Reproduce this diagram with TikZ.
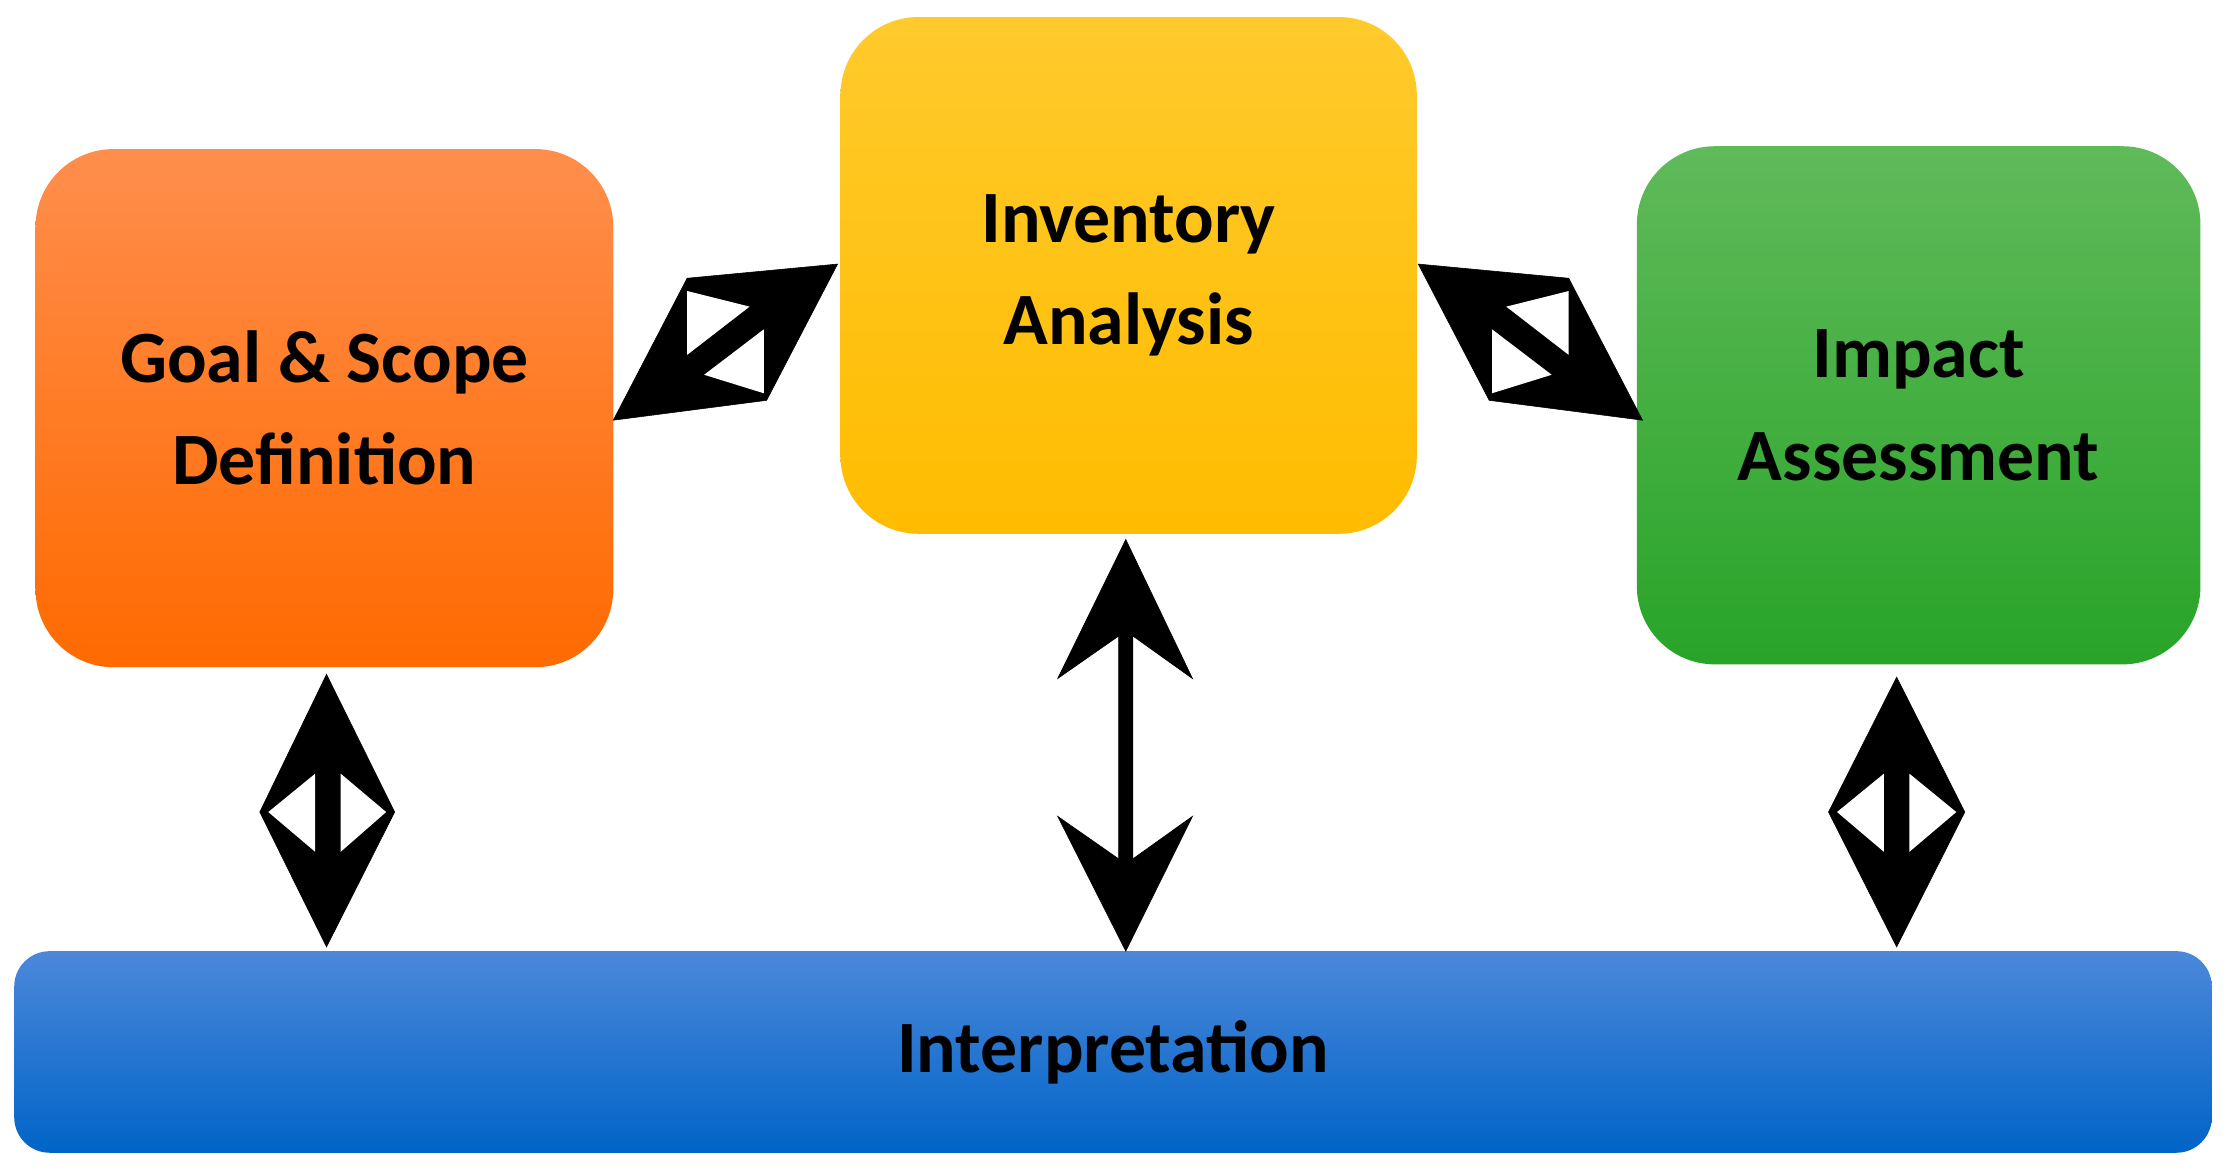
\documentclass[tikz,border=0pt]{standalone}
\usepackage{fontspec}
\setmainfont{Carlito}
\usetikzlibrary{positioning}
\definecolor{goalTop}{RGB}{255,142,76}
\definecolor{goalBot}{RGB}{255,106,0}
\definecolor{invTop}{RGB}{255,202,44}
\definecolor{invBot}{RGB}{255,188,0}
\definecolor{impTop}{RGB}{96,186,90}
\definecolor{impBot}{RGB}{40,164,40}
\definecolor{intTop}{RGB}{76,136,218}
\definecolor{intBot}{RGB}{0,100,200}
\tikzset{
  stage/.style={rectangle, rounded corners=55pt, align=center, inner sep=0pt,
    font=\fontsize{52}{72}\selectfont\bfseries},
  dblarrow/.style={fill=black, draw=black},
  hole/.style={fill=white}
}
\begin{document}
\begin{tikzpicture}[x=1pt,y=1pt,yscale=-1]
  \useasboundingbox (0,0) rectangle (1568,826);

  % stages
  \node (goal) [stage, minimum width=407pt, minimum height=365pt,
    top color=goalTop, bottom color=goalBot] at (228.5,287.5) {Goal \& Scope\\Definition};
  \node (inv) [stage, minimum width=406pt, minimum height=364pt,
    top color=invTop, bottom color=invBot] at (795,194) {Inventory\\Analysis};
  \node (imp) [stage, minimum width=397pt, minimum height=365pt,
    top color=impTop, bottom color=impBot] at (1351.5,285.5) {Impact\\Assessment};
  \node (interp) [stage, rounded corners=25pt, minimum width=1548pt, minimum height=142pt,
    top color=intTop, bottom color=intBot] at (784,741) {Interpretation};

  % goal <-> interpretation
  \draw [dblarrow] (230,475) -- (278,572) -- (230,667) -- (183,572) -- cycle;
  \fill [hole] (189,572) -- (222,545) -- (222,600) -- cycle;
  \fill [hole] (272,572) -- (240,545) -- (240,600) -- cycle;

  % impact <-> interpretation
  \draw [dblarrow] (1336,477) -- (1384,572) -- (1336,667) -- (1288,572) -- cycle;
  \fill [hole] (1294,572) -- (1327,545) -- (1327,600) -- cycle;
  \fill [hole] (1378,572) -- (1345,545) -- (1345,600) -- cycle;

  % inventory <-> interpretation
  \draw [dblarrow] (793,380) -- (840,478) -- (798,448) -- (798,605) -- (840,575)
    -- (793,670) -- (745,575) -- (788,605) -- (788,448) -- (745,478) -- cycle;

  % goal <-> inventory
  \draw [dblarrow] (432,296) -- (484,196) -- (590,186) -- (540,282) -- cycle;
  \fill [hole] (484,205) -- (484,250) -- (528,216) -- cycle;
  \fill [hole] (496,264) -- (538,277) -- (538,232) -- cycle;

  % inventory <-> impact
  \begin{scope}[shift={(1589,0)}, xscale=-1]
    \draw [dblarrow] (432,296) -- (484,196) -- (590,186) -- (540,282) -- cycle;
    \fill [hole] (484,205) -- (484,250) -- (528,216) -- cycle;
    \fill [hole] (496,264) -- (538,277) -- (538,232) -- cycle;
  \end{scope}
\end{tikzpicture}
\end{document}
